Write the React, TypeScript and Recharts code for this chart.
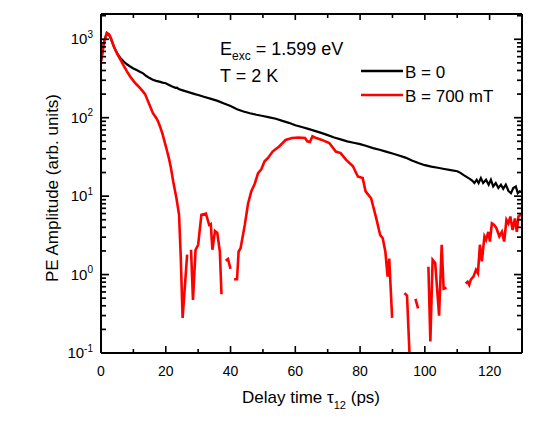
import React from 'react';
import { LineChart, Line, XAxis, YAxis, Legend, ReferenceLine } from 'recharts';

const FONT = '"Liberation Sans", Arial, sans-serif';

// B = 0 trace
const zeroFieldTime = [
  0, 0.5, 1, 1.8, 2.5, 3, 4, 5, 6, 7, 8, 9, 10, 11, 12, 13, 14, 15, 16, 17, 18, 19, 20,
  21, 22, 23, 23.5, 24, 25, 26, 27, 28, 29, 30, 32, 34, 36, 38, 40, 42, 44, 46, 48, 50,
  52, 54, 56, 58, 60, 62, 64, 66, 68, 70, 72, 74, 76, 78, 80, 82, 84, 86, 88, 90, 92,
  94, 96, 98, 100, 102, 104, 106, 108, 110, 111, 112, 113, 114, 114.6, 115.3, 116.0,
  116.6, 117.3, 118.0, 118.9, 119.7, 120.4, 121.1, 121.9, 122.7, 123.5, 124.2, 125.0,
  125.8, 126.6, 127.3, 128.1, 128.7, 129.3, 130,
];
const zeroFieldAmp = [
  525, 700, 950, 1200, 1130, 1030, 800, 660, 575, 520, 480, 450, 425, 405, 385, 368, 340,
  320, 305, 295, 288, 280, 275, 262, 250, 240, 242, 232, 225, 218, 212, 206, 200, 195,
  184, 174, 164, 152, 141, 128, 120, 114, 109, 105, 101, 97, 91, 86, 80, 76, 72, 68, 64,
  60, 56, 53, 50, 48, 46, 43.5, 41, 39, 37, 35, 33, 31, 28.5, 26.5, 24.8, 23.8, 23, 22.2,
  21.5, 20.8, 19.8, 18.5, 17.5, 16.5, 15.8, 14.7, 16.2, 14.7, 17.0, 14.7, 16.2, 14.0,
  16.2, 13.3, 14.7, 12.7, 14.0, 12.4, 14.0, 11.7, 10.9, 12.7, 13.3, 10.9, 11.5, 11.2,
];

// B = 700 mT trace (null = gap in the measured curve)
const fieldTime = [
  0, 0.5, 1, 1.8, 2.5, 3, 4, 5, 6, 7, 8, 9, 10, 11, 12, 13, 13.6, 14.3, 15, 16, 17, 17.5,
  18.2, 19, 19.6, 20.3, 21, 21.6, 22.3, 23.3, 24.1, 24.6, 25.2, 26.6, 27.2, 27.8, 28.4,
  29.2, 30, 31, 32.4, 33.4, 33.9, 34.4, 35.2, 35.9, 36.7, 37.2, 37.9, 38.5, 39.2, 40,
  40.6, 41.1, 42, 42.5, 43.1, 44.4, 45.4, 46.4, 47.5, 48.5, 49.5, 50.5, 51.5, 53, 55, 57,
  59, 61, 63, 63.7, 64.5, 65.3, 66.5, 68, 70.5, 72.5, 74, 75.7, 77.8, 79.3, 80.8, 81.7,
  83.4, 85, 86.2, 87, 87.8, 88.5, 89, 89.9, 91.5, 93.7, 94.5, 95.3, 96.2, 97.1, 97.9,
  99.5, 101.1, 101.7, 102.4, 103.2, 104.4, 105.2, 105.8, 106.7, 110, 112.6, 113.2, 113.7,
  114.2, 115.0, 115.8, 116.4, 117.0, 117.6, 118.4, 118.9, 119.6, 120.1, 120.7, 121.4,
  122.1, 123.0, 123.8, 124.5, 125.2, 125.8, 126.4, 127.1, 127.8, 128.4, 128.9, 129.6, 130,
];
const fieldAmp = [
  525, 700, 950, 1200, 1150, 1050, 800, 650, 550, 460, 390, 335, 295, 265, 240, 215, 200,
  170, 145, 115, 100, 92, 78, 62, 50, 39, 30, 22.8, 15.4, 9.4, 5.8, 1.8, 0.28, 1.8, null,
  2.07, 0.475, 2.07, 2.4, 5.8, 6.0, 4.3, 4.4, 2.07, 3.6, 3.4, 1.97, 0.56, null, 1.5, 1.58,
  1.18, null, 0.87, 0.87, 1.97, 2.17, 4.3, 8.0, 11.5, 14.5, 19.7, 22, 27.8, 30.5, 37, 43,
  52, 55, 56, 55, 50, 49, 58, 55, 52.5, 47.5, 37, 35.4, 29, 24, 17.8, 17, 11.5, 9.4, 5.2,
  3.2, 2.9, 1.97, 0.94, 1.6, 0.28, null, 0.58, 0.54, 0.09, null, 0.49, 0.37, null, 1.26,
  0.14, 1.54, 1.4, 0.3, 2.4, 0.66, 0.68, null, 0.77, 0.81, 0.74, 0.86, 0.94, 1.15, 1.04,
  2.4, 1.47, 3.06, 2.77, 3.5, 2.64, 4.5, 4.3, 3.9, 3.06, 3.5, 2.64, 5.0, 4.5, 5.5, 3.7,
  5.2, 3.5, 5.5, 5.8, 5.6,
];

const xTicks = [0, 10, 20, 30, 40, 50, 60, 70, 80, 90, 100, 110, 120, 130];
const decades = [0.1, 1, 10, 100, 1000];
const mantissas = [1, 2, 3, 4, 5, 6, 7, 8, 9];
const yTicks = decades
  .flatMap((d) => mantissas.map((m) => +(m * d).toPrecision(3)))
  .filter((v) => v <= 2000);

const Y_MAX = 2100;
// inner end of the top-frame ticks, in data units (about 6px / 4px below the top)
const TOP_MAJOR_END = 1760;
const TOP_MINOR_END = 1870;

const zeroFieldData = zeroFieldTime.map((t, i) => ({ t, v: zeroFieldAmp[i] }));
const fieldData = fieldTime.map((t, i) => ({ t, v: fieldAmp[i] }));

const isDecade = (v: number) => Math.abs(Math.log10(v) - Math.round(Math.log10(v))) < 1e-6;

const BottomTick = ({ x, y, payload }: any) => {
  const v = payload.value;
  const major = v % 20 === 0;
  return (
    <g>
      <line x1={x} x2={x} y1={y} y2={y - (major ? 7 : 4)} stroke="#000" strokeWidth={1.6} />
      {major && (
        <text x={x} y={y + 23} textAnchor="middle" fontSize={14} fontFamily={FONT} fill="#000">
          {v}
        </text>
      )}
    </g>
  );
};

const LeftTick = ({ x, y, payload }: any) => {
  const v = payload.value;
  const major = isDecade(v);
  const exp = Math.round(Math.log10(v));
  return (
    <g>
      <line x1={x} x2={x + (major ? 8 : 5)} y1={y} y2={y} stroke="#000" strokeWidth={1.7} />
      {major && (
        <text x={x - 8} y={y + 5} textAnchor="end" fontSize={15} fontFamily={FONT} fill="#000">
          10
          <tspan dy={-6.5} fontSize={10}>
            {exp}
          </tspan>
        </text>
      )}
    </g>
  );
};

const RightTick = ({ x, y, payload }: any) => {
  const major = isDecade(payload.value);
  return <line x1={x} x2={x - (major ? 8 : 5)} y1={y} y2={y} stroke="#000" strokeWidth={1.7} />;
};

const renderLegend = ({ payload }: any) => (
  <svg width={180} height={50} style={{ display: 'block' }}>
    {(payload || []).map((entry: any, i: number) => (
      <g key={i}>
        <line x1={6} x2={48} y1={13 + i * 24} y2={13 + i * 24} stroke={entry.color} strokeWidth={2.5} />
        <text x={50} y={19.5 + i * 24} fontSize={17} fontFamily={FONT} fill="#000">
          {entry.value}
        </text>
      </g>
    ))}
  </svg>
);

const axisLine = { stroke: '#000', strokeWidth: 2 };

export default function App() {
  return (
    <div style={{ position: 'absolute', left: 0, top: 0, width: 543, height: 445, background: '#fff' }}>
      <LineChart width={543} height={445} margin={{ top: 13, right: 20, bottom: 62, left: 41 }}>
        <XAxis
          dataKey="t"
          type="number"
          domain={[0, 130]}
          ticks={xTicks}
          interval={0}
          height={30}
          tickSize={0}
          tickMargin={0}
          tickLine={false}
          axisLine={axisLine}
          tick={<BottomTick />}
        />
        <XAxis
          xAxisId="top"
          orientation="top"
          dataKey="t"
          type="number"
          domain={[0, 130]}
          ticks={xTicks}
          interval={0}
          height={1}
          tickSize={0}
          tickMargin={0}
          tickLine={false}
          axisLine={axisLine}
          tick={false}
        />
        <YAxis
          type="number"
          scale="log"
          domain={[0.1, Y_MAX]}
          allowDataOverflow
          ticks={yTicks}
          interval={0}
          width={60}
          tickSize={0}
          tickMargin={0}
          tickLine={false}
          axisLine={axisLine}
          tick={<LeftTick />}
        />
        <YAxis
          yAxisId="right"
          orientation="right"
          type="number"
          scale="log"
          domain={[0.1, Y_MAX]}
          allowDataOverflow
          ticks={yTicks}
          interval={0}
          width={1}
          tickSize={0}
          tickMargin={0}
          tickLine={false}
          axisLine={axisLine}
          tick={<RightTick />}
        />
        {xTicks.map((t) => (
          <ReferenceLine
            key={`top-${t}`}
            segment={[
              { x: t, y: Y_MAX },
              { x: t, y: t % 20 === 0 ? TOP_MAJOR_END : TOP_MINOR_END },
            ]}
            stroke="#000"
            strokeWidth={1.6}
            ifOverflow="visible"
          />
        ))}
        <Legend
          layout="horizontal"
          verticalAlign="middle"
          align="center"
          content={renderLegend}
          wrapperStyle={{ left: 355, top: 58, width: 180, height: 50 }}
        />
        <Line
          data={zeroFieldData}
          dataKey="v"
          name="B = 0"
          type="linear"
          stroke="#000000"
          strokeWidth={2.2}
          dot={false}
          isAnimationActive={false}
        />
        <Line
          data={fieldData}
          dataKey="v"
          name="B = 700 mT"
          type="linear"
          stroke="#ff0000"
          strokeWidth={2.6}
          dot={false}
          connectNulls={false}
          isAnimationActive={false}
        />
      </LineChart>
      <svg
        width={543}
        height={445}
        style={{ position: 'absolute', left: 0, top: 0, pointerEvents: 'none' }}
      >
        <text x={220} y={55} fontSize={18} fontFamily={FONT} fill="#000">
          E<tspan dy={5} fontSize={12}>exc</tspan>
          <tspan dy={-5}> = 1.599 eV</tspan>
        </text>
        <text x={220} y={82} fontSize={18} fontFamily={FONT} fill="#000">
          T = 2 K
        </text>
        <text x={311} y={403} textAnchor="middle" fontSize={17} fontFamily={FONT} fill="#000">
          Delay time τ<tspan dy={6} fontSize={11}>12</tspan>
          <tspan dy={-6}> (ps)</tspan>
        </text>
        <text
          transform="translate(58,188) rotate(-90)"
          textAnchor="middle"
          fontSize={17}
          fontFamily={FONT}
          fill="#000"
        >
          PE Amplitude (arb. units)
        </text>
      </svg>
    </div>
  );
}
